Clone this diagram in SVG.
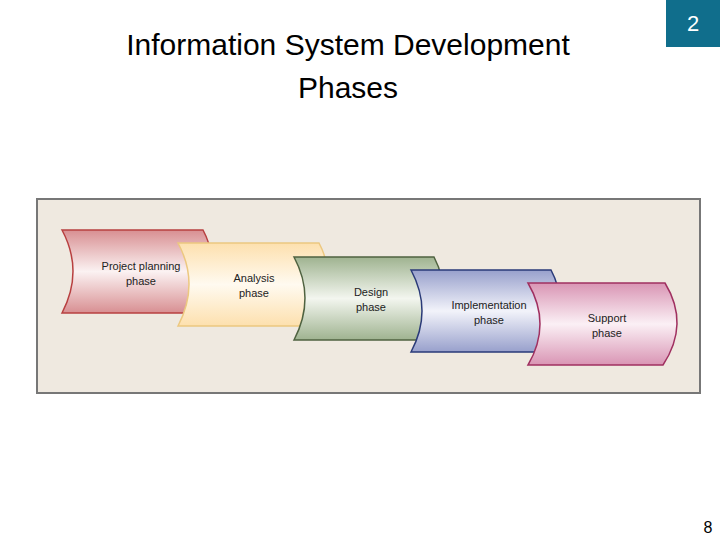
<svg xmlns="http://www.w3.org/2000/svg" width="720" height="540" viewBox="0 0 720 540">
<style>
.t{font-family:"Liberation Sans",Arial,sans-serif;fill:#000}
.l{font-family:"Liberation Sans Narrow","Liberation Sans",Arial,sans-serif;font-size:11px;fill:#222;text-anchor:middle}
.s{stroke-width:1.5}
</style>
<defs>
<linearGradient id="g1" x1="0" y1="0" x2="0" y2="1"><stop offset="0" stop-color="#d88f92"/><stop offset="0.5" stop-color="#fbf2f2"/><stop offset="1" stop-color="#d88f92"/></linearGradient>
<linearGradient id="g2" x1="0" y1="0" x2="0" y2="1"><stop offset="0" stop-color="#fde0ae"/><stop offset="0.5" stop-color="#fffaf0"/><stop offset="1" stop-color="#fde0ae"/></linearGradient>
<linearGradient id="g3" x1="0" y1="0" x2="0" y2="1"><stop offset="0" stop-color="#9fb390"/><stop offset="0.5" stop-color="#f3f6ef"/><stop offset="1" stop-color="#9fb390"/></linearGradient>
<linearGradient id="g4" x1="0" y1="0" x2="0" y2="1"><stop offset="0" stop-color="#98a0cc"/><stop offset="0.5" stop-color="#f2f3fa"/><stop offset="1" stop-color="#98a0cc"/></linearGradient>
<linearGradient id="g5" x1="0" y1="0" x2="0" y2="1"><stop offset="0" stop-color="#d995b4"/><stop offset="0.5" stop-color="#fbf0f5"/><stop offset="1" stop-color="#d995b4"/></linearGradient>
</defs>
<rect width="720" height="540" fill="#fff"/>
<text class="t" x="348" y="55" font-size="30" text-anchor="middle">Information System Development</text>
<text class="t" x="348" y="98" font-size="30" text-anchor="middle">Phases</text>
<rect x="666" y="0" width="54" height="47" fill="#106e8c"/>
<text x="693" y="31" font-family="Liberation Sans,Arial,sans-serif" font-size="22" fill="#fff" text-anchor="middle">2</text>
<text class="t" x="708" y="533" font-size="16" text-anchor="middle">8</text>
<rect x="37" y="199" width="663" height="194" fill="#efe9e0" stroke="#777" stroke-width="2"/>
<g id="n1"><path class="s" d="M62,230 L203,230 Q225,271 190,313 L62,313 Q84,271 62,230 Z" fill="url(#g1)" stroke="#b84040"/><text class="l" x="141" y="270">Project planning</text><text class="l" x="141" y="285">phase</text></g>
<g id="n2"><path class="s" d="M178,243 L319,243 Q341,284 306,326 L178,326 Q200,284 178,243 Z" fill="url(#g2)" stroke="#ecc880"/><text class="l" x="254" y="282">Analysis</text><text class="l" x="254" y="297">phase</text></g>
<g id="n3"><path class="s" d="M294,257 L434,257 Q456,298 421,340 L294,340 Q316,298 294,257 Z" fill="url(#g3)" stroke="#4f6240"/><text class="l" x="371" y="296">Design</text><text class="l" x="371" y="311">phase</text></g>
<g id="n4"><path class="s" d="M411,270 L551,270 Q573,311 538,352 L411,352 Q433,311 411,270 Z" fill="url(#g4)" stroke="#2a3a78"/><text class="l" x="489" y="309">Implementation</text><text class="l" x="489" y="324">phase</text></g>
<g id="n5"><path class="s" d="M528,283 L665,283 Q690,324 663,365 L528,365 Q552,324 528,283 Z" fill="url(#g5)" stroke="#a03060"/><text class="l" x="607" y="322">Support</text><text class="l" x="607" y="337">phase</text></g>
<g id="connectors"/>
</svg>
